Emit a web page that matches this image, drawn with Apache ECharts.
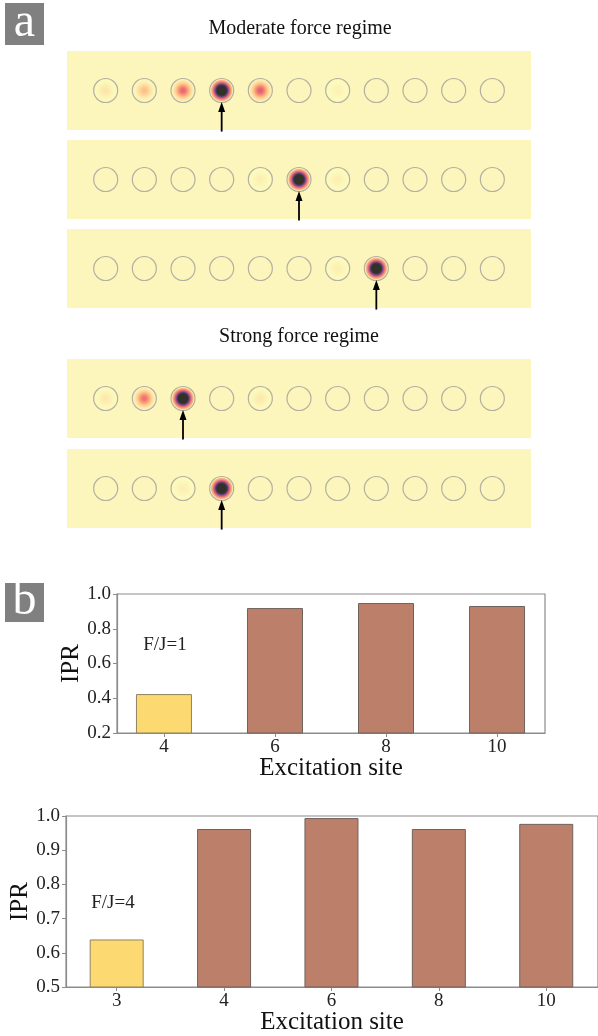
<!DOCTYPE html>
<html>
<head>
<meta charset="utf-8">
<script src="https://cdn.jsdelivr.net/npm/echarts@6/dist/echarts.min.js"></script>
<style>
	html, body { margin: 0; padding: 0; background: #fff; }
	#main { width: 598px; height: 1036px; }
</style>
</head>
<body>
<div id="main"></div>
<script>
// 格点数，每条的光强（相对值）
var siteCount = 11;
var stripModerate1 = [0.035, 0.09, 0.23, 1.0, 0.25, 0, 0.015, 0, 0, 0, 0];
var stripModerate2 = [0, 0, 0, 0, 0.02, 1.0, 0.02, 0, 0, 0, 0];
var stripModerate3 = [0, 0, 0, 0, 0, 0, 0.02, 1.0, 0, 0, 0];
var stripStrong1 = [0.03, 0.21, 1.0, 0, 0.03, 0, 0, 0, 0, 0, 0];
var stripStrong2 = [0, 0, 0.02, 1.0, 0, 0, 0, 0, 0, 0, 0];
var excitedSites = [4, 6, 8, 3, 4];
var regimeTitles = ['Moderate force regime', 'Strong force regime'];

// IPR 柱状图
var sitesF1 = ['4', '6', '8', '10'];
var iprF1 = [0.424, 0.919, 0.948, 0.931];
var sitesF4 = ['3', '4', '6', '8', '10'];
var iprF4 = [0.639, 0.962, 0.994, 0.962, 0.977];
var labelF1 = 'F/J=1';
var labelF4 = 'F/J=4';

var byId = function(id) {
	return document.getElementById(id);
};

var FONT = 'Liberation Serif';

// magma 色表
var magmaStops = ['#000004', '#140e36', '#3b0f70', '#641a80', '#8c2981', '#b73779',
	'#de4968', '#f7705c', '#fe9f6d', '#fecf92', '#fcfdbf'];

function hexToRgb(h) {
	return [parseInt(h.substr(1, 2), 16), parseInt(h.substr(3, 2), 16), parseInt(h.substr(5, 2), 16)];
}

function magma(t) {
	t = Math.max(0, Math.min(1, t));
	var p = t * (magmaStops.length - 1);
	var i = Math.min(Math.floor(p), magmaStops.length - 2);
	var f = p - i;
	var a = hexToRgb(magmaStops[i]);
	var b = hexToRgb(magmaStops[i + 1]);
	var c = [];
	for (var k = 0; k < 3; k++)
		c.push(Math.round(a[k] + (b[k] - a[k]) * f));
	return 'rgb(' + c.join(',') + ')';
}

// 光斑：高斯分布，颜色上限 vmax
var vmax = 0.55;
function spotGradient(peak) {
	var stops = [];
	for (var j = 0; j <= 10; j++) {
		var f = j / 10;
		var v = peak * Math.exp(-Math.pow(f / 0.58, 2)) / vmax;
		stops.push({offset: f, color: magma(1 - Math.min(1, v))});
	}
	stops[stops.length - 1].color = 'rgba(252,246,189,0)';
	return {type: 'radial', x: 0.5, y: 0.5, r: 0.5, colorStops: stops};
}

var strips = [stripModerate1, stripModerate2, stripModerate3, stripStrong1, stripStrong2];
var stripTops = [51, 140, 229, 359, 449];

var grids = [], xAxes = [], yAxes = [], series = [];

for (var s = 0; s < strips.length; s++) {
	grids.push({left: 67, width: 464, top: stripTops[s], height: 79, show: true,
		backgroundColor: '#fcf6bd', borderWidth: 0});
	xAxes.push({type: 'value', gridIndex: s, min: 0, max: siteCount + 1, show: false});
	yAxes.push({type: 'value', gridIndex: s, min: 0, max: 1, show: false});

	var spots = [];
	var rings = [];
	for (var i = 0; i < siteCount; i++) {
		rings.push([i + 1, 0.5]);
		if (strips[s][i] > 0)
			spots.push({value: [i + 1, 0.5], itemStyle: {color: spotGradient(strips[s][i])}});
	}
	series.push({
		type: 'scatter', xAxisIndex: s, yAxisIndex: s, symbolSize: 23, z: 2,
		data: spots, silent: true
	});
	series.push({
		type: 'scatter', xAxisIndex: s, yAxisIndex: s, symbolSize: 24, z: 3,
		itemStyle: {color: 'rgba(0,0,0,0)', borderColor: '#a09f98', borderWidth: 1.2},
		data: rings, silent: true
	});
	// 激发位置箭头
	series.push({
		type: 'custom', xAxisIndex: s, yAxisIndex: s, z: 4, silent: true,
		data: [[excitedSites[s], -0.02, 0.355]],
		renderItem: function(params, api) {
			var p0 = api.coord([api.value(0), api.value(1)]);
			var p1 = api.coord([api.value(0), api.value(2)]);
			var head = 10, hw = 3.5;
			return {
				type: 'group',
				children: [{
					type: 'line',
					shape: {x1: p0[0], y1: p0[1], x2: p1[0], y2: p1[1] + head - 1},
					style: {stroke: '#000', lineWidth: 1.8}
				}, {
					type: 'polygon',
					shape: {points: [[p1[0], p1[1]], [p1[0] - hw, p1[1] + head], [p1[0] + hw, p1[1] + head]]},
					style: {fill: '#000'}
				}]
			};
		}
	});
}

var axisGray = '#8c8c8c';

function makeBarAxes(gi, labels, min, max, yMin, yMax, yInt) {
	var ticks = labels.map(function(l, i) { return i; });
	xAxes.push({
		type: 'value', gridIndex: gi, min: min, max: max,
		name: 'Excitation site', nameLocation: 'middle', nameGap: 23, nameMoveOverlap: false,
		nameTextStyle: {fontFamily: FONT, fontSize: 25, color: '#111'},
		axisLine: {show: true, onZero: false, lineStyle: {color: axisGray, width: 1.2}},
		axisTick: {show: true, inside: false, length: 4, customValues: ticks, lineStyle: {color: axisGray}},
		axisLabel: {show: true, customValues: ticks, margin: 5, fontFamily: FONT, fontSize: 19, color: '#222',
			formatter: function(v) { return labels[Math.round(v)]; }},
		splitLine: {show: false}
	});
	yAxes.push({
		type: 'value', gridIndex: gi, min: yMin, max: yMax, interval: yInt,
		name: 'IPR', nameLocation: 'middle', nameGap: 33, nameRotate: 90, nameMoveOverlap: false,
		nameTextStyle: {fontFamily: FONT, fontSize: 25, color: '#111'},
		axisLine: {show: true, onZero: false, lineStyle: {color: axisGray, width: 1.2}},
		axisTick: {show: true, inside: false, length: 4, lineStyle: {color: axisGray}},
		axisLabel: {margin: 6, fontFamily: FONT, fontSize: 19, color: '#222',
			formatter: function(v) { return v.toFixed(1); }},
		splitLine: {show: false}
	});
}

function makeBars(gi, values, width) {
	series.push({
		type: 'bar', xAxisIndex: gi, yAxisIndex: gi, barWidth: width, silent: true,
		data: values.map(function(v, i) {
			var first = i == 0;
			return {
				value: [i, v],
				itemStyle: {
					color: first ? '#fdd971' : '#bc806a',
					borderColor: first ? '#8f8460' : '#6f625e',
					borderWidth: 1
				}
			};
		})
	});
}

// F/J=1
grids.push({left: 117, top: 594, width: 428, height: 139, show: true, borderColor: axisGray, borderWidth: 1.2});
makeBarAxes(5, sitesF1, -0.423, 3.432, 0.2, 1.0, 0.2);
makeBars(5, iprF1, 56);

// F/J=4
grids.push({left: 65, top: 816, width: 535, height: 173, show: true, borderColor: axisGray, borderWidth: 1.2});
makeBarAxes(6, sitesF4, -0.472, 4.482, 0.5, 1.0, 0.1);
makeBars(6, iprF4, 54);

function panelTag(x, y, w, h, letter) {
	return [{
		type: 'rect', left: x, top: y, shape: {width: w, height: h},
		style: {fill: '#808080'}
	}, {
		type: 'text', x: x + w / 2, y: y + h / 2 - 1,
		style: {text: letter, fill: '#fff', font: '48px "' + FONT + '"', align: 'center', verticalAlign: 'middle'}
	}];
}

var graphics = [].concat(
	panelTag(5, 3, 39, 42, 'a'),
	panelTag(5, 583, 39, 39, 'b'),
	[{
		type: 'text', x: 300, y: 29,
		style: {text: regimeTitles[0], fill: '#111', font: '20px "' + FONT + '"', align: 'center', verticalAlign: 'middle'}
	}, {
		type: 'text', x: 299, y: 337,
		style: {text: regimeTitles[1], fill: '#111', font: '20px "' + FONT + '"', align: 'center', verticalAlign: 'middle'}
	}, {
		type: 'text', x: 165, y: 645,
		style: {text: labelF1, fill: '#222', font: '19px "' + FONT + '"', align: 'center', verticalAlign: 'middle'}
	}, {
		type: 'text', x: 113, y: 903,
		style: {text: labelF4, fill: '#222', font: '19px "' + FONT + '"', align: 'center', verticalAlign: 'middle'}
	}]
);

var option = {
	animation: false,
	backgroundColor: '#fff',
	grid: grids,
	xAxis: xAxes,
	yAxis: yAxes,
	series: series,
	graphic: graphics
};

var chart = echarts.init(byId('main'));
chart.setOption(option);
</script>
</body>
</html>
